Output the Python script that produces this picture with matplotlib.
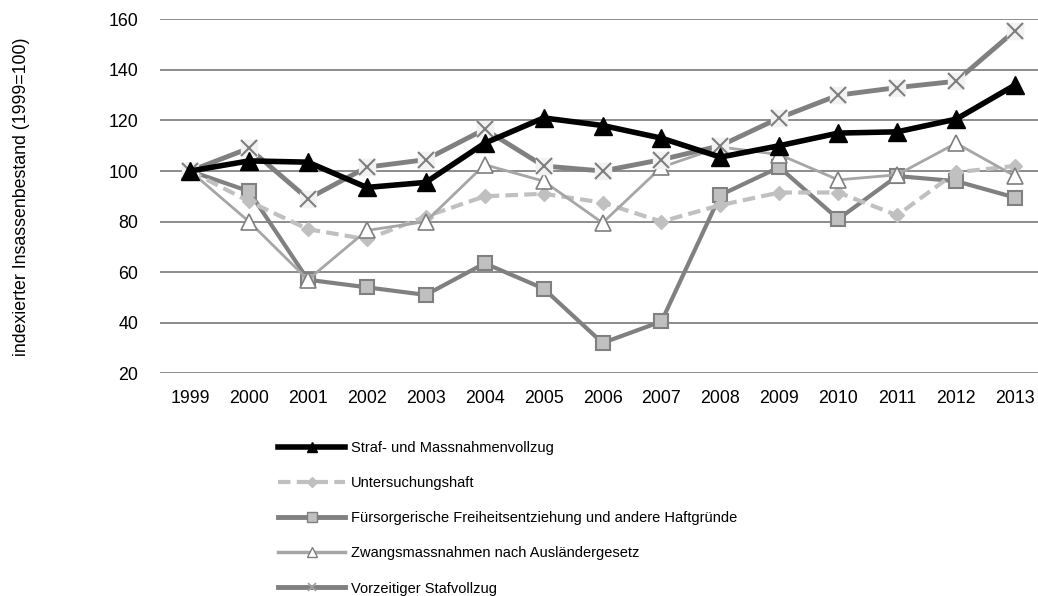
import matplotlib
matplotlib.use("Agg")
import matplotlib.pyplot as plt
from matplotlib.lines import Line2D

plt.rcParams['font.family'] = ['Liberation Sans', 'DejaVu Sans']

years = ["1999", "2000", "2001", "2002", "2003", "2004", "2005", "2006",
         "2007", "2008", "2009", "2010", "2011", "2012", "2013"]
straf = [100, 104, 103.5, 93.5, 95.5, 111, 121, 118, 113, 105.5, 110, 115, 115.5, 120.5, 134]
unters = [100, 88, 77, 73, 82, 90, 91, 87.5, 80, 86.5, 91.5, 91.5, 82.5, 99.5, 102]
fuersorge = [100, 92, 57, 54, 51, 63.5, 53.5, 32, 40.5, 90.5, 101.5, 81, 98, 96, 89.5]
zwang = [100, 80, 57, 76.5, 80, 102.5, 96, 79.5, 101.5, 109.5, 106.5, 96.5, 98.5, 111, 98]
vorzeitig = [100, 109, 89, 101.5, 104.5, 116.5, 102, 100, 104.5, 110, 121, 130, 133, 135.5, 155.5]
labels = ["Straf- und Massnahmenvollzug", "Untersuchungshaft",
          "Fürsorgerische Freiheitsentziehung und andere Haftgründe",
          "Zwangsmassnahmen nach Ausländergesetz", "Vorzeitiger Stafvollzug"]
yticks = [20, 40, 60, 80, 100, 120, 140, 160]

W, H = 1038, 596
fig = plt.figure(figsize=(W / 100, H / 100), dpi=100)
ax = fig.add_axes([160 / W, 1 - 373.3 / H, (W - 160) / W, (373.3 - 19.3) / H])
x = list(range(len(years)))

for y in yticks:
    ax.axhline(y, color='#8c8c8c', lw=1.4, zorder=0)

ax.plot(x, fuersorge, color='#808080', lw=3, marker='s', ms=10,
        mfc='#c0c0c0', mec='#808080', mew=1.5, zorder=2)
ax.plot(x, unters, color='#c0c0c0', lw=3, ls=(0, (3, 1.5)), marker='D', ms=7,
        mfc='#c0c0c0', mec='#c0c0c0', zorder=3)
ax.plot(x, zwang, color='#a6a6a6', lw=2, marker='^', ms=11,
        mfc='white', mec='#7f7f7f', mew=1.2, zorder=4)
ax.plot(x, vorzeitig, color='#808080', lw=3.5, zorder=5)
ax.plot(x, vorzeitig, ls='none', marker='s', ms=11, mfc='#f2f2f2', mec='#f2f2f2', zorder=5)
ax.plot(x, vorzeitig, ls='none', marker='x', ms=11, mec='#7f7f7f', mew=1.5, zorder=5)
ax.plot(x, straf, color='black', lw=4, marker='^', ms=13,
        mfc='black', mec='black', zorder=6)

ax.set_xlim(-0.51, 14.39)
ax.set_ylim(20, 160)
ax.set_yticks(yticks)
ax.set_xticks(x)
ax.set_xticklabels(years)
for s in ax.spines.values():
    s.set_visible(False)
ax.tick_params(axis='y', length=0, pad=15.5, labelsize=12.8, colors='black')
ax.tick_params(axis='x', length=0, pad=12, labelsize=12.8, colors='black')
ax.set_ylabel("indexierter Insassenbestand (1999=100)", fontsize=12.8)
ax.yaxis.set_label_coords(-(160 - 22) / (W - 160), 0.5)
ax.yaxis.label.set_va('center')

handles = [
    Line2D([], [], color='black', lw=4, marker='^', ms=7, mfc='black', mec='black'),
    Line2D([], [], color='#c0c0c0', lw=3, ls=(0, (3, 1.5)), marker='D', ms=5, mfc='#c0c0c0', mec='#c0c0c0'),
    Line2D([], [], color='#808080', lw=3.5, marker='s', ms=7, mfc='#c0c0c0', mec='#808080'),
    Line2D([], [], color='#a6a6a6', lw=2.5, marker='^', ms=7, mfc='white', mec='#7f7f7f'),
    Line2D([], [], color='#808080', lw=3.5, marker='x', ms=6, mec='#a0a0a0', mew=1.2),
]
fig.legend(handles, labels, loc='upper left', bbox_to_anchor=(278 / W, 1 - 441 / H),
           frameon=False, fontsize=10.5, handlelength=4.6, handletextpad=0.4,
           labelspacing=1.45, borderaxespad=0, borderpad=0)

fig.savefig("out.png", dpi=100)
